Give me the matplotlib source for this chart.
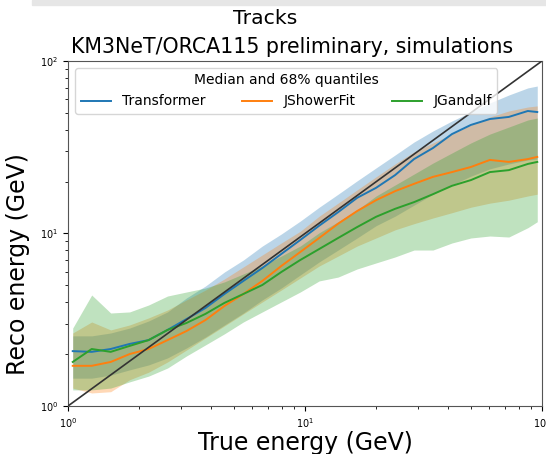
import numpy as np
import matplotlib
matplotlib.use("Agg")
import matplotlib.pyplot as plt
from matplotlib.patches import Rectangle

# true energy bin centres (GeV)
E_TRUE = [1.047, 1.259, 1.514, 1.820, 2.188, 2.630, 3.162, 3.802, 4.571, 5.495,
          6.607, 7.943, 9.550, 11.48, 13.80, 16.60, 19.95, 23.99, 28.84, 34.67,
          41.69, 50.12, 60.26, 72.44, 87.10, 95.50]

# reconstructed energy: median, 16% and 84% quantiles (GeV)
TRANSFORMER_MED = [2.08, 2.06, 2.14, 2.29, 2.41, 2.76, 3.19, 3.70, 4.46, 5.31,
                   6.31, 7.61, 9.17, 11.1, 13.3, 16.1, 18.4, 21.8, 27.0, 31.3,
                   37.7, 42.6, 46.1, 47.4, 51.3, 50.6]
TRANSFORMER_LO = [1.45, 1.45, 1.51, 1.62, 1.73, 1.90, 2.17, 2.51, 2.95, 3.46,
                  4.12, 4.83, 5.75, 6.84, 8.02, 9.42, 11.1, 12.6, 14.6, 16.9,
                  19.1, 21.5, 23.7, 25.3, 26.7, 27.0]
TRANSFORMER_HI = [2.55, 2.55, 2.65, 2.83, 3.11, 3.51, 4.23, 4.96, 5.98, 7.02,
                  8.46, 9.93, 11.8, 14.2, 16.9, 20.2, 24.0, 28.5, 33.9, 39.3,
                  44.9, 50.6, 57.1, 63.5, 69.8, 71.6]

JSHOWERFIT_MED = [1.71, 1.71, 1.80, 2.00, 2.14, 2.41, 2.72, 3.15, 3.80, 4.46,
                  5.31, 6.48, 7.81, 9.42, 11.4, 13.5, 15.6, 17.6, 19.4, 21.3,
                  22.7, 24.3, 26.7, 26.0, 27.0, 27.8]
JSHOWERFIT_LO = [1.27, 1.19, 1.21, 1.42, 1.57, 1.80, 2.11, 2.48, 2.91, 3.42,
                 4.01, 4.70, 5.52, 6.48, 7.40, 8.46, 9.42, 10.5, 11.4, 12.3,
                 13.2, 14.2, 15.0, 15.6, 16.5, 16.9]
JSHOWERFIT_HI = [2.65, 3.07, 2.76, 2.95, 3.24, 3.60, 4.12, 4.70, 5.45, 6.40,
                 7.51, 8.81, 10.3, 12.6, 15.0, 17.9, 21.3, 25.3, 29.7, 33.5,
                 37.7, 42.6, 47.4, 51.3, 54.1, 54.9]

JGANDALF_MED = [1.80, 2.14, 2.06, 2.23, 2.41, 2.76, 3.03, 3.42, 3.96, 4.46,
                5.03, 5.98, 7.02, 8.13, 9.42, 10.9, 12.5, 13.9, 15.2, 16.9,
                18.9, 20.4, 22.7, 23.3, 25.3, 26.0]
JGANDALF_LO = [1.24, 1.24, 1.27, 1.38, 1.49, 1.66, 1.95, 2.26, 2.62, 3.07,
               3.51, 4.01, 4.58, 5.31, 5.59, 6.23, 6.75, 7.31, 8.02, 8.02,
               8.81, 9.42, 9.67, 9.54, 10.8, 11.7]
JGANDALF_HI = [2.83, 4.40, 3.46, 3.51, 3.85, 4.34, 4.58, 4.83, 5.24, 5.83,
               6.48, 7.40, 8.46, 10.1, 11.7, 13.7, 16.5, 19.1, 22.1, 25.6,
               29.3, 33.5, 37.7, 41.4, 45.5, 46.7]

RECOS = ["Transformer", "JShowerFit", "JGandalf"]
RECO_DATA = {
    "Transformer": (TRANSFORMER_MED, TRANSFORMER_LO, TRANSFORMER_HI),
    "JShowerFit": (JSHOWERFIT_MED, JSHOWERFIT_LO, JSHOWERFIT_HI),
    "JGandalf": (JGANDALF_MED, JGANDALF_LO, JGANDALF_HI),
}
RECO_COLORS = {
    "Transformer": "tab:blue",
    "JShowerFit": "tab:orange",
    "JGandalf": "tab:green",
}

fig = plt.figure(figsize=(5.46, 4.54), dpi=100)
# slide background strip at the very top
fig.patches.append(Rectangle((32 / 546, 1 - 5 / 454), 1, 5 / 454,
                             transform=fig.transFigure, color="#e6e6e6",
                             zorder=0))
ax = fig.add_axes([68 / 546, 1 - 406 / 454, 474 / 546, 345 / 454])

e = np.array(E_TRUE)
for reco in RECOS:
    med, lo, hi = RECO_DATA[reco]
    ax.fill_between(e, lo, hi, color=RECO_COLORS[reco], alpha=0.3,
                    linewidth=0)
for reco in RECOS:
    med, lo, hi = RECO_DATA[reco]
    ax.plot(e, med, color=RECO_COLORS[reco], linewidth=1.4, label=reco)

ax.plot([1, 100], [1, 100], color="#333333", linewidth=1.2, zorder=5)

ax.set_xscale("log")
ax.set_yscale("log")
ax.set_xlim(1, 100)
ax.set_ylim(1, 100)
ax.tick_params(axis="both", which="major", labelsize=7)
for sp in ax.spines.values():
    sp.set_color("#555555")

ax.set_xlabel("True energy (GeV)", fontsize=17, labelpad=1)
ax.set_ylabel("Reco energy (GeV)", fontsize=17)
ax.yaxis.set_label_coords(-0.08, 0.41)
ax.set_title("KM3NeT/ORCA115 preliminary, simulations", fontsize=14.8,
             x=0.473, pad=6)
fig.suptitle("Tracks", fontsize=14.7, x=0.485, y=0.98)

ax.legend(loc="upper left", ncol=3, title="Median and 68% quantiles",
          fontsize=10, title_fontsize=10, handlelength=2.2,
          columnspacing=2.6, framealpha=0.8)

plt.savefig("out.png", dpi=100)
